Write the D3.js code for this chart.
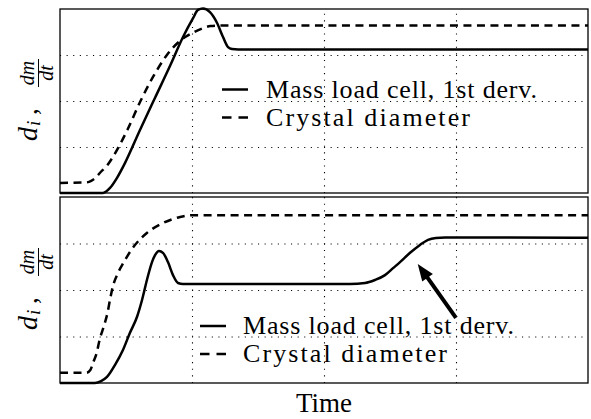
<!DOCTYPE html>
<html>
<head>
<meta charset="utf-8">
<script src="https://cdn.jsdelivr.net/npm/d3@7"></script>
<style>
  html, body { margin: 0; padding: 0; background: #ffffff; }
  svg { display: block; }
</style>
</head>
<body>
<div id="chart"></div>
<script>
// Two stacked panels: mass load cell derivative vs crystal diameter.
// Values are in grid units (4 divisions each way).

var gridTicks = [1, 2, 3];

var legendLabels = ["Mass load cell, 1st derv.", "Crystal diameter"];
var xLabel = "Time";

// top panel [time, value]
var topMass = [
    [0, 0], [0.326, 0], [0.379, 0.11], [0.432, 0.33], [0.492, 0.65],
    [0.606, 1.37], [0.72, 2.07], [0.833, 2.76], [0.932, 3.39], [1.008, 3.8],
    [1.045, 3.98], [1.083, 4.01], [1.136, 3.93], [1.189, 3.7], [1.235, 3.39],
    [1.273, 3.17], [1.303, 3.13], [1.35, 3.12], [4, 3.12]
];

var topDiam = [
    [0, 0.22], [0.2, 0.23], [0.24, 0.27], [0.27, 0.33], [0.3, 0.43],
    [0.36, 0.61], [0.4, 0.78], [0.51, 1.37], [0.61, 2.0], [0.71, 2.55],
    [0.81, 3.0], [0.91, 3.31], [1.01, 3.49], [1.08, 3.58], [1.14, 3.63],
    [1.21, 3.64], [4, 3.64]
];

// bottom panel [time, value]
var bottomMass = [
    [0, 0], [0.265, 0], [0.311, 0.04], [0.356, 0.13], [0.417, 0.39],
    [0.477, 0.71], [0.53, 1.08], [0.583, 1.42], [0.621, 1.78], [0.659, 2.22],
    [0.697, 2.6], [0.72, 2.75], [0.75, 2.84], [0.78, 2.8], [0.818, 2.6],
    [0.856, 2.32], [0.894, 2.15], [0.932, 2.13], [2.197, 2.13], [2.311, 2.15],
    [2.386, 2.215], [2.462, 2.32], [2.523, 2.47], [2.576, 2.6], [2.652, 2.8],
    [2.727, 2.97], [2.788, 3.08], [2.848, 3.12], [2.917, 3.13], [4, 3.125]
];

var bottomDiam = [
    [0, 0.22], [0.2, 0.22], [0.23, 0.28], [0.25, 0.43], [0.28, 0.67],
    [0.3, 0.93], [0.33, 1.2], [0.36, 1.51], [0.38, 1.81], [0.4, 2.07],
    [0.44, 2.37], [0.48, 2.58], [0.55, 2.9], [0.66, 3.23], [0.78, 3.44],
    [0.91, 3.57], [1.01, 3.61], [4, 3.61]
];

// arrow in the bottom panel: tail -> tip
var arrowTail = [3.0, 1.4];
var arrowTip = [2.71, 2.56];

(function() {

    var width = 591;
    var height = 419;
    var left = 60;
    var right = 588;
    var serif = "'Liberation Serif', 'DejaVu Serif', serif";

    var svg = d3.select("#chart")
        .append("svg")
        .attr("width", width)
        .attr("height", height);

    svg.append("rect")
        .attr("width", width)
        .attr("height", height)
        .attr("fill", "#ffffff");

    var xScale = d3.scaleLinear()
        .domain([0, 4])
        .range([left, right]);

    var panels = [
        { top: 9, bottom: 193, mass: topMass, diam: topDiam, legX: 222, legY: 89.5, textX: 266 },
        { top: 197, bottom: 383, mass: bottomMass, diam: bottomDiam, legX: 200, legY: 326, textX: 243 }
    ];

    panels.forEach(function(p, i) {

        var yScale = d3.scaleLinear()
            .domain([0, 4])
            .range([p.bottom, p.top]);

        var h = p.bottom - p.top;
        var g = svg.append("g");

        // dotted grid from the axes
        g.append("g")
            .attr("class", "grid")
            .attr("transform", "translate(0," + p.bottom + ")")
            .call(d3.axisBottom(xScale).tickValues(gridTicks).tickSize(-h).tickFormat(""));

        g.append("g")
            .attr("class", "grid")
            .attr("transform", "translate(" + left + ",0)")
            .call(d3.axisLeft(yScale).tickValues(gridTicks).tickSize(-(right - left)).tickFormat(""));

        g.selectAll(".grid .domain").remove();
        g.selectAll(".grid .tick line")
            .attr("stroke", "#000000")
            .attr("stroke-width", 1.1)
            .attr("stroke-dasharray", "1.1,5.5");

        // panel frame
        g.append("rect")
            .attr("x", left)
            .attr("y", p.top)
            .attr("width", right - left)
            .attr("height", h)
            .attr("fill", "none")
            .attr("stroke", "#000000")
            .attr("stroke-width", 1.3);

        var line = d3.line()
            .x(function(d) { return xScale(d[0]); })
            .y(function(d) { return yScale(d[1]); })
            .curve(d3.curveMonotoneX);

        g.append("path")
            .datum(p.diam)
            .attr("d", line)
            .attr("fill", "none")
            .attr("stroke", "#000000")
            .attr("stroke-width", 2.5)
            .attr("stroke-dasharray", "8,5.5");

        g.append("path")
            .datum(p.mass)
            .attr("d", line)
            .attr("fill", "none")
            .attr("stroke", "#000000")
            .attr("stroke-width", 2.5);

        // legend
        var rowGap = 28;
        legendLabels.forEach(function(label, k) {
            var ly = p.legY + k * rowGap;

            g.append("line")
                .attr("x1", p.legX)
                .attr("x2", p.legX + 26)
                .attr("y1", ly)
                .attr("y2", ly)
                .attr("stroke", "#000000")
                .attr("stroke-width", 2.5)
                .attr("stroke-dasharray", k === 1 ? "9.5,7" : null);

            g.append("text")
                .attr("x", p.textX)
                .attr("y", ly + 8)
                .attr("font-family", serif)
                .attr("font-size", "26px")
                .attr("fill", "#000000")
                .attr("textLength", k === 0 ? 271 : 204)
                .attr("lengthAdjust", "spacing")
                .text(label);
        });

        // y label: d_i, dm/dt (rotated)
        var cy = (p.top + p.bottom) / 2;
        var lab = g.append("g")
            .attr("transform", "translate(37," + cy + ") rotate(-90)")
            .attr("font-family", serif)
            .attr("fill", "#000000");

        lab.append("text")
            .attr("x", -40)
            .attr("y", 0)
            .attr("font-size", "28px")
            .attr("font-style", "italic")
            .text("d");

        lab.append("text")
            .attr("x", -25)
            .attr("y", 3)
            .attr("font-size", "19px")
            .attr("font-style", "italic")
            .text("i");

        lab.append("text")
            .attr("x", -14)
            .attr("y", 0)
            .attr("font-size", "27px")
            .text(",");

        lab.append("text")
            .attr("x", 28)
            .attr("y", -3)
            .attr("text-anchor", "middle")
            .attr("font-size", "20px")
            .attr("font-style", "italic")
            .text("dm");

        lab.append("line")
            .attr("x1", 14)
            .attr("x2", 42)
            .attr("y1", 1.5)
            .attr("y2", 1.5)
            .attr("stroke", "#000000")
            .attr("stroke-width", 1);

        lab.append("text")
            .attr("x", 28)
            .attr("y", 16)
            .attr("text-anchor", "middle")
            .attr("font-size", "20px")
            .attr("font-style", "italic")
            .text("dt");

        // annotation arrow (bottom panel only)
        if (i === 1) {
            var tx = xScale(arrowTail[0]), ty = yScale(arrowTail[1]);
            var hx = xScale(arrowTip[0]), hy = yScale(arrowTip[1]);
            var len = Math.sqrt((hx - tx) * (hx - tx) + (hy - ty) * (hy - ty));
            var ux = (hx - tx) / len, uy = (hy - ty) / len;
            var headLen = 17, headHalf = 6.5;
            var bx = hx - ux * headLen, by = hy - uy * headLen;

            g.append("line")
                .attr("x1", tx)
                .attr("y1", ty)
                .attr("x2", bx + ux * 2)
                .attr("y2", by + uy * 2)
                .attr("stroke", "#000000")
                .attr("stroke-width", 4);

            g.append("path")
                .attr("d", "M" + hx + "," + hy +
                    "L" + (bx - uy * headHalf) + "," + (by + ux * headHalf) +
                    "L" + (bx + uy * headHalf) + "," + (by - ux * headHalf) + "Z")
                .attr("fill", "#000000");
        }
    });

    // x label
    svg.append("text")
        .attr("x", (left + right) / 2)
        .attr("y", 412)
        .attr("text-anchor", "middle")
        .attr("font-family", serif)
        .attr("font-size", "27px")
        .attr("fill", "#000000")
        .text(xLabel);

})();
</script>
</body>
</html>
